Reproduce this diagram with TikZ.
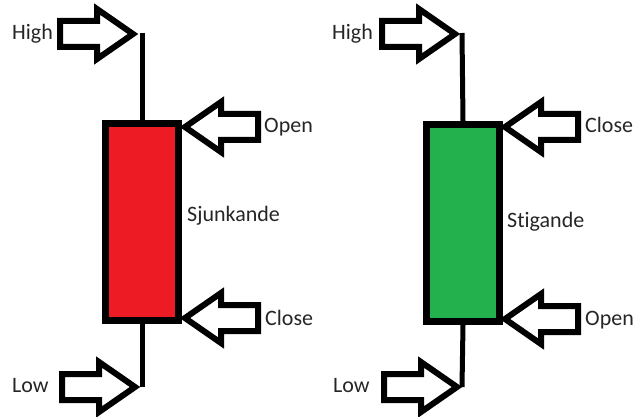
\documentclass[tikz,border=0pt]{standalone}
\usepackage{fontspec}
\setmainfont{Carlito}[Ligatures={NoCommon}]
\begin{document}
\begin{tikzpicture}[x=1pt,y=-1pt,
  wick/.style={line width=5pt},
  body/.style={draw,line width=7pt,minimum width=73pt,minimum height=197pt,inner sep=0pt},
  fall/.style={body,fill=candlered},
  rise/.style={body,fill=candlegreen},
  lbl/.style={font=\fontsize{22}{24}\selectfont,text=black!85,inner sep=0pt,anchor=base west},
  pics/blockarrow/.style={code={
    \draw[line width=6pt,fill=white,line join=miter]
      (0,0) -- (-36,-25) -- (-36,-13) -- (-73,-13) -- (-73,13) -- (-36,13) -- (-36,25) -- cycle;
  }}]
\definecolor{candlered}{HTML}{ED1C24}
\definecolor{candlegreen}{HTML}{22B14C}
\useasboundingbox (0,0) rectangle (635,417);

% falling candle
\node[fall] (redbox) at (142,222) {};
\coordinate (redtop) at (142,33);
\coordinate (redbot) at (142,387);
\draw[wick] (redtop) -- (redbox.north);
\draw[wick] (redbox.south) -- (redbot);
\pic at (133,34) {blockarrow};
\pic at (135,387) {blockarrow};
\pic[xscale=-1] at (185,127) {blockarrow};
\pic[xscale=-1] at (185,318) {blockarrow};
\node[lbl] (rh) at (12,40) {High};
\node[lbl] (rl) at (12,392) {Low};
\node[lbl] (ro) at (264,133) {Open};
\node[lbl] (rc) at (265,325) {Close};
\node[lbl] (rs) at (187,222) {Sjunkande};

% rising candle
\node[rise] (greenbox) at (463,223) {};
\coordinate (greentop) at (462,33);
\coordinate (greenbot) at (462,387);
\draw[wick] (greentop) -- (greenbox.north);
\draw[wick] (greenbox.south) -- (greenbot);
\pic at (455,34) {blockarrow};
\pic at (457,387) {blockarrow};
\pic[xscale=-1] at (505,127) {blockarrow};
\pic[xscale=-1] at (505,319) {blockarrow};
\node[lbl] (gh) at (332,40) {High};
\node[lbl] (gl) at (333,392) {Low};
\node[lbl] (gc) at (585,133) {Close};
\node[lbl] (go) at (585,325) {Open};
\node[lbl] (gs) at (507,227) {Stigande};
\end{tikzpicture}
\end{document}
